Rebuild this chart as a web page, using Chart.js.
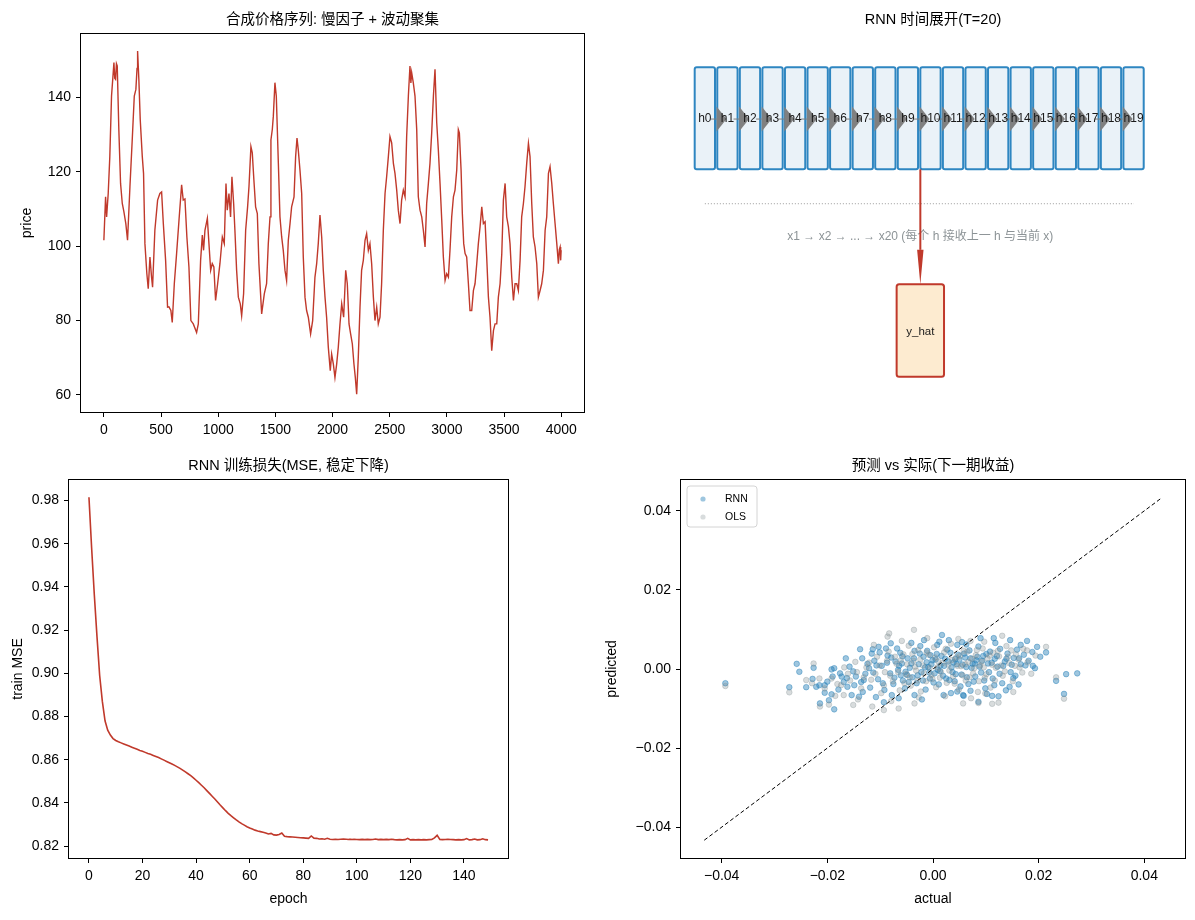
<!DOCTYPE html>
<html>
<head>
<meta charset="utf-8">
<script src="https://cdn.jsdelivr.net/npm/chart.js@4.4.1/dist/chart.umd.min.js"></script>
<style>
html, body { margin: 0; padding: 0; background: #fff; }
#quadro { position: relative; width: 1195px; height: 920px; }
#quadro canvas { position: absolute; left: 0; top: 0; }
</style>
</head>
<body>
<div id="quadro">
<canvas id="preco_chart" width="1195" height="920"></canvas>
<canvas id="rnn_chart" width="1195" height="920"></canvas>
<canvas id="perda_chart" width="1195" height="920"></canvas>
<canvas id="dispersao_chart" width="1195" height="920"></canvas>
</div>
<script>
// serie de preco sintetica [t, preco]
const precoSerie = [
[0,101.6],[15,113.3],[24,107.9],[38,114.2],[52,124.1],[67,140.4],[88,149.4],[95,145.2],[102,144.9],[110,149.1],[117,148.5],[131,131.3],
[146,116.9],[161,111.5],[175,109.3],[192,106.1],[207,101.6],[228,116],[248,128.6],[266,140.4],[280,142.2],[290,147.8],[295,152.5],
[306,144.9],[318,134.1],[336,124.1],[347,119.6],[359,100.7],[376,92.6],[388,88.6],[403,97.1],[417,91.7],[426,89],
[446,104.3],[470,112.4],[490,114.2],[505,114.6],[520,106.1],[540,96.2],[557,83.6],[569,83.7],[586,82.7],[598,79.5],
[616,89.9],[636,98],[657,107],[680,116.5],[694,112.4],[709,112.7],[726,102.5],[744,94.4],[761,80],[782,79.1],
[811,76.8],[826,79.1],[846,96.2],[861,103],[872,98.9],[884,104.3],[905,107.5],[919,100.7],[934,93.5],[948,95.3],
[962,94.4],[977,85.4],[995,89.9],[1015,95.3],[1036,102.5],[1053,100.7],[1068,116.9],[1079,109.7],[1094,114.2],[1108,107.9],
[1120,118.7],[1135,111.5],[1146,104.3],[1161,93.5],[1176,86.3],[1193,84.5],[1205,81.3],[1222,87.2],[1240,104.3],[1257,110.6],
[1269,116],[1286,126.8],[1298,125.1],[1312,117.8],[1327,110.6],[1342,108.8],[1356,95.3],[1380,81.8],[1403,87.2],[1423,89.9],
[1438,100.7],[1453,107.9],[1461,128.6],[1473,131.4],[1482,135],[1496,144],[1508,140.4],[1526,122.3],[1540,107.9],[1555,102.5],
[1569,98.9],[1584,93.5],[1598,90.8],[1613,101.6],[1628,106.1],[1642,110.6],[1663,113.3],[1677,124.1],[1689,129.1],[1700,126],
[1715,120.5],[1730,114.2],[1744,97.1],[1759,86.3],[1773,82.7],[1788,80.9],[1808,76.4],[1826,80],[1846,91.7],[1861,95.3],
[1875,100.7],[1890,108.4],[1905,102.5],[1919,93.5],[1934,86.3],[1948,80.9],[1963,72.8],[1980,66.5],[1992,71],[2007,68.3],
[2021,64.7],[2036,68.3],[2050,72.8],[2065,79.1],[2080,84.5],[2097,80.9],[2115,93.5],[2129,89.9],[2144,79.1],[2158,76.4],
[2173,73.7],[2187,68.3],[2199,64.7],[2211,60.2],[2225,70.1],[2240,83.6],[2254,93.5],[2269,96.2],[2284,101.6],[2298,103.4],
[2313,98.9],[2327,100.7],[2342,95.3],[2357,86.3],[2371,80],[2386,83.6],[2400,79.1],[2415,80.9],[2429,89.9],[2444,104.3],
[2459,114.2],[2473,118.7],[2488,124.1],[2502,129.5],[2517,127.8],[2532,122.3],[2546,119.6],[2561,115.1],[2575,109.7],[2590,106.1],
[2604,112.4],[2619,115.1],[2634,113.3],[2648,129.5],[2663,140.4],[2677,148.5],[2685,143.9],[2692,146.7],[2706,144],[2721,140.4],[2736,131.4],
[2750,113.3],[2765,109.7],[2780,107.9],[2794,104.3],[2809,99.8],[2823,111.5],[2838,116.9],[2852,122.3],[2867,130.5],[2882,140.4],
[2896,147.6],[2911,133.2],[2925,126],[2940,116.9],[2955,107],[2969,97.1],[2984,90.8],[2998,92.6],[3013,91.7],[3027,98.9],
[3042,107.9],[3057,113.3],[3071,115.1],[3086,120.5],[3100,131.4],[3109,130.5],[3124,120.5],[3135,108.8],[3147,100.7],[3159,98],
[3173,97.1],[3188,89.9],[3202,82.7],[3217,82.7],[3232,88.1],[3246,89.9],[3261,95.3],[3275,100.7],[3290,105.2],[3305,110.6],
[3319,106.1],[3334,106.6],[3348,97.1],[3363,86.3],[3377,80.9],[3392,71.9],[3407,77.3],[3421,79.1],[3436,79.1],[3450,86.3],
[3465,89.9],[3480,98],[3494,112.4],[3509,116.9],[3523,107.9],[3538,105.2],[3552,100.7],[3567,91.7],[3582,85.4],[3596,89.9],
[3611,89.9],[3625,88.1],[3640,96.2],[3654,107.9],[3669,111.5],[3683,116],[3698,122.3],[3713,127.7],[3727,124.1],[3742,111.5],
[3756,102.5],[3771,99.8],[3786,95.3],[3800,86.3],[3815,88.1],[3829,89.9],[3844,93.5],[3859,104.3],[3873,107.9],[3888,119.6],
[3902,121.4],[3917,116.9],[3931,111.5],[3946,106.1],[3961,100.7],[3975,95.3],[3983,99.1],[3990,99.8],[3995,96.2],[3999,98.9]
]
const precoTicksX = [0, 500, 1000, 1500, 2000, 2500, 3000, 3500, 4000]
const precoTicksY = [60, 80, 100, 120, 140]

// perda de treino por epoca
const perdaMse = [
0.9815, 0.958, 0.9364, 0.917, 0.899, 0.887, 0.878, 0.8737, 0.8714, 0.8698,
0.8689, 0.8683, 0.8678, 0.8673, 0.8668, 0.8663, 0.8658, 0.8653, 0.8648, 0.8643,
0.8639, 0.8634, 0.8629, 0.8625, 0.8620, 0.8615, 0.8610, 0.8604, 0.8598, 0.8592,
0.8586, 0.8580, 0.8574, 0.8567, 0.8560, 0.8552, 0.8544, 0.8535, 0.8526, 0.8516,
0.8505, 0.8494, 0.8482, 0.8470, 0.8457, 0.8444, 0.8431, 0.8418, 0.8404, 0.8390,
0.8377, 0.8364, 0.8352, 0.8341, 0.8331, 0.8321, 0.8312, 0.8304, 0.8297, 0.8290,
0.8284, 0.8279, 0.8274, 0.8270, 0.8267, 0.8264, 0.8261, 0.8256, 0.8259, 0.8252,
0.8251, 0.8254, 0.8261, 0.8246, 0.8244, 0.8243, 0.8242, 0.8241, 0.8240, 0.8239,
0.8238, 0.8237, 0.8236, 0.8247, 0.8237, 0.8236, 0.8233, 0.8234, 0.8232, 0.8236,
0.8232, 0.8231, 0.8232, 0.8231, 0.8232, 0.8233, 0.8232, 0.8231, 0.8231, 0.8232,
0.8231, 0.8230, 0.8231, 0.8230, 0.8231, 0.8230, 0.8231, 0.8233, 0.8230, 0.8231,
0.8230, 0.8231, 0.8230, 0.8232, 0.8230, 0.8229, 0.8230, 0.8229, 0.8230, 0.8236,
0.8229, 0.8230, 0.8229, 0.8230, 0.8229, 0.8230, 0.8229, 0.8230, 0.8231, 0.8238,
0.8250, 0.8231, 0.8230, 0.8231, 0.8232, 0.8231, 0.8230, 0.8229, 0.8230, 0.8229,
0.8230, 0.8235, 0.8229, 0.8230, 0.8233, 0.8229, 0.8230, 0.8234, 0.8230, 0.8229
]
const perdaTicksX = [0, 20, 40, 60, 80, 100, 120, 140]
const perdaTicksY = [0.82, 0.84, 0.86, 0.88, 0.90, 0.92, 0.94, 0.96, 0.98]

// previsto vs real [actual, predicted]
const rnnPontos = [
[-0.0393,-0.0036],[-0.0272,-0.0046],[-0.0258,0.0013],[-0.0253,-0.0007],[-0.0240,-0.0046],[-0.0228,-0.0025],[-0.0226,0.0003],
[-0.0221,-0.0045],[-0.0215,-0.0041],[-0.0214,-0.0087],[-0.0205,-0.0041],[-0.0205,-0.0060],[-0.0200,-0.0032],[-0.0197,-0.0079],
[-0.0192,-0.0064],[-0.0192,-0.0001],[-0.0190,-0.0019],[-0.0187,-0.0102],[-0.0187,0.0002],[-0.0173,-0.0019],[-0.0165,0.0027],
[-0.0162,-0.0045],[-0.0154,-0.0066],[-0.0149,-0.0041],[-0.0138,0.0050],[-0.0134,0.0027],[-0.0131,-0.0028],[-0.0140,-0.0070],
[-0.0121,0.0002],[-0.0114,0.0050],[-0.0103,0.0056],[-0.0093,-0.0084],[-0.0080,0.0065],[-0.0068,0.0052],[-0.0065,-0.0074],
[-0.0059,0.0014],[-0.0049,-0.0015],[-0.0035,-0.0066],[-0.0024,0.0058],[-0.0017,0.0073],[-0.0005,0.0035],[0.0008,0.0061],
[0.0017,0.0086],[0.0030,0.0073],[0.0020,-0.0066],[0.0046,0.0061],[0.0055,0.0068],[0.0057,-0.0066],[0.0046,-0.0057],
[0.0058,-0.0068],[0.0086,-0.0083],[0.0090,0.0078],[0.0112,-0.0068],[0.0124,-0.0069],[0.0115,0.0078],[0.0146,0.0073],
[0.0145,-0.0045],[0.0162,-0.0039],[0.0152,-0.0023],[0.0178,0.0071],[0.0197,0.0056],[0.0203,0.0031],[0.0214,0.0042],
[0.0193,0.0002],[0.0189,0.0008],[0.0233,-0.0030],[0.0252,-0.0013],[0.0273,-0.0011],[0.0248,-0.0063],
[-0.0128,-0.0012],[-0.0119,-0.0047],[-0.0111,0.0021],[-0.0104,-0.0026],[-0.0097,0.0008],[-0.0092,-0.0053],[-0.0086,0.0034],
[-0.0081,-0.0011],[-0.0075,-0.0038],[-0.0071,0.0019],[-0.0066,-0.0002],[-0.0062,0.0041],[-0.0057,-0.0029],[-0.0053,-0.0049],
[-0.0048,0.0027],[-0.0044,0.0003],[-0.0039,-0.0021],[-0.0035,0.0046],[-0.0031,-0.0036],[-0.0027,0.0012],[-0.0022,-0.0008],
[-0.0018,0.0031],[-0.0014,-0.0052],[-0.0009,0.0005],[-0.0006,-0.0024],[-0.0001,0.0022],[0.0003,-0.0011],[0.0007,0.0038],
[0.0011,-0.0039],[0.0014,0.0009],[0.0019,-0.0017],[0.0023,0.0026],[0.0027,0.0049],[0.0031,-0.0028],[0.0035,0.0004],
[0.0039,0.0017],[0.0043,-0.0013],[0.0048,0.0036],[0.0052,-0.0044],[0.0056,0.0011],[0.0061,0.0029],[0.0064,-0.0021],
[0.0069,0.0047],[0.0073,0.0003],[0.0077,-0.0032],[0.0082,0.0022],[0.0086,0.0057],[0.0091,-0.0009],[0.0095,0.0033],
[0.0099,-0.0049],[0.0104,0.0014],[0.0108,0.0044],[0.0113,-0.0024],[0.0117,0.0026],[0.0122,0.0006],[0.0127,0.0051],
[0.0131,-0.0036],[0.0136,0.0019],[0.0141,0.0039],[0.0147,-0.0008],[0.0153,0.0028],[0.0159,0.0049],[0.0166,0.0012],
[0.0172,0.0036],[0.0181,0.0021],[0.0188,0.0043],[-0.0146,-0.0019],[-0.0158,0.0006],[-0.0169,-0.0033],[-0.0179,-0.0052],
[-0.0133,-0.0058],[-0.0108,-0.0071],[-0.0078,-0.0066],[-0.0021,-0.0077],[0.0034,-0.0061],[0.0071,-0.0055],[0.0102,-0.0063],
[0.0138,-0.0054],[-0.0089,0.0052],[-0.0041,0.0066],[0.0012,0.0069],[0.0063,0.0062],[0.0118,0.0066],[0.0166,0.0061],
[-0.0116,0.0039],[0.0013,-0.0005],[0.0042,0.0025],[-0.0012,0.0017],[0.0079,0.0014],[-0.0061,-0.0016],
[-0.0124,0.0013],[-0.0113,-0.0009],[-0.0101,0.0042],[-0.0095,-0.0036],[-0.0087,0.0016],[-0.0079,0.0029],[-0.0073,-0.0022],
[-0.0064,0.0008],[-0.0058,0.0032],[-0.0052,-0.0007],[-0.0046,-0.0033],[-0.0041,0.0014],[-0.0036,0.0027],[-0.0029,-0.0016],
[-0.0025,0.0039],[-0.0019,-0.0029],[-0.0015,0.0004],[-0.0011,0.0046],[-0.0007,-0.0009],[-0.0003,0.0012],[0.0001,-0.0034],
[0.0005,0.0024],[0.0009,-0.0002],[0.0016,0.0033],[0.0021,0.0008],[0.0025,-0.0024],[0.0029,0.0019],[0.0033,0.0041],
[0.0037,-0.0008],[0.0041,-0.0031],[0.0045,0.0012],[0.0050,0.0024],[0.0054,-0.0014],[0.0059,0.0039],[0.0063,0.0005],
[0.0067,-0.0038],[0.0071,0.0027],[0.0075,0.0013],[0.0080,-0.0019],[0.0084,0.0031],[0.0088,0.0006],[0.0093,0.0021],
[0.0097,-0.0029],[0.0101,0.0038],[0.0106,-0.0008],[0.0111,0.0016],[0.0116,-0.0041],[0.0121,0.0033],[0.0126,-0.0012],
[0.0133,0.0008],[0.0139,0.0026],[0.0149,0.0011],[0.0156,-0.0017],[0.0163,0.0027],[0.0175,0.0009],[-0.0151,-0.0006],
[-0.0163,-0.0023],[-0.0176,-0.0011],[-0.0136,-0.0033],[-0.0107,0.0009]
]
const olsPontos = [
[-0.0393,-0.0043],[-0.0272,-0.0059],[-0.0240,-0.0028],[-0.0226,0.0014],[-0.0215,-0.0024],[-0.0214,-0.0095],[-0.0197,-0.0090],
[-0.0083,0.0090],[-0.0086,0.0082],[-0.0036,0.0099],[0.0131,0.0084],[0.0214,0.0056],[0.0233,-0.0021],[0.0248,-0.0075],
[0.0112,-0.0088],[0.0124,-0.0085],[0.0086,-0.0086],[0.0057,-0.0087],[-0.0169,-0.0066],[-0.0151,-0.0091],[-0.0115,-0.0095],
[-0.0065,-0.0100],[-0.0093,-0.0104],[-0.0035,-0.0087],[0.0099,-0.0062],[0.0178,0.0047],
[-0.0174,-0.0041],[-0.0161,-0.0012],[-0.0147,0.0018],[-0.0136,-0.0049],[-0.0126,0.0004],[-0.0117,-0.0027],[-0.0106,0.0031],
[-0.0098,-0.0061],[-0.0091,-0.0008],[-0.0084,0.0044],[-0.0076,-0.0031],[-0.0069,0.0013],[-0.0063,-0.0054],[-0.0056,0.0037],
[-0.0051,-0.0013],[-0.0046,0.0059],[-0.0042,-0.0042],[-0.0037,0.0021],[-0.0032,-0.0004],[-0.0028,0.0048],[-0.0023,-0.0057],
[-0.0019,0.0009],[-0.0013,-0.0031],[-0.0008,0.0036],[-0.0003,-0.0015],[0.0002,0.0055],[0.0006,-0.0046],[0.0010,0.0019],
[0.0015,-0.0007],[0.0021,0.0042],[0.0026,-0.0035],[0.0029,0.0011],[0.0034,0.0064],[0.0038,-0.0019],[0.0044,0.0029],
[0.0049,-0.0052],[0.0053,0.0007],[0.0058,0.0046],[0.0062,-0.0029],[0.0067,0.0018],[0.0071,0.0071],[0.0076,-0.0011],
[0.0081,0.0035],[0.0085,-0.0058],[0.0089,0.0009],[0.0094,0.0052],[0.0098,-0.0022],[0.0103,0.0027],[0.0109,-0.0047],
[0.0114,0.0041],[0.0119,0.0003],[0.0125,0.0032],[0.0132,-0.0017],[0.0139,0.0058],[0.0144,0.0015],[0.0151,-0.0031],
[0.0157,0.0037],[0.0164,0.0004],[0.0171,0.0051],[0.0179,0.0017],[0.0186,-0.0012],[0.0194,0.0034],[-0.0185,-0.0068],
[-0.0192,-0.0024],[-0.0205,-0.0049],[-0.0229,-0.0036],[-0.0112,0.0061],[-0.0059,0.0071],[-0.0011,0.0078],[0.0048,0.0076],
[0.0097,0.0069],[-0.0142,-0.0077],[-0.0079,-0.0081],[-0.0027,-0.0072],[0.0023,-0.0069],[0.0072,-0.0074],[0.0152,-0.0058],
[-0.0131,-0.0021],[-0.0121,0.0016],[-0.0109,-0.0012],[-0.0101,0.0009],[-0.0093,-0.0041],[-0.0087,0.0021],[-0.0081,-0.0017],
[-0.0072,0.0031],[-0.0066,-0.0008],[-0.0061,0.0022],[-0.0054,-0.0036],[-0.0049,0.0012],[-0.0044,-0.0021],[-0.0039,0.0038],
[-0.0034,0.0006],[-0.0029,-0.0029],[-0.0024,0.0024],[-0.0017,-0.0011],[-0.0012,0.0042],[-0.0006,0.0003],[-0.0001,-0.0025],
[0.0004,0.0029],[0.0008,0.0004],[0.0013,-0.0022],[0.0018,0.0015],[0.0024,0.0051],[0.0031,-0.0004],[0.0036,0.0023],
[0.0041,-0.0037],[0.0046,0.0008],[0.0051,0.0033],[0.0056,-0.0016],[0.0061,0.0012],[0.0065,0.0044],[0.0069,-0.0021],
[0.0074,0.0026],[0.0078,0.0002],[0.0083,0.0048],[0.0087,-0.0031],[0.0092,0.0019],[0.0096,0.0004],[0.0101,-0.0013],
[0.0107,0.0034],[0.0112,0.0011],[0.0117,-0.0029],[0.0123,0.0046],[0.0129,0.0009],[0.0136,-0.0006],[0.0142,0.0031],
[0.0148,0.0047],[0.0155,0.0008],[0.0162,0.0024],[0.0169,-0.0009],[-0.0157,-0.0029],[-0.0144,-0.0008],[-0.0168,0.0004],
[-0.0181,-0.0038]
]
const diagonal = [-0.0433, 0.0433]
const dispersaoTicks = [-0.04, -0.02, 0, 0.02, 0.04]

// estados do diagrama RNN
const estados = ['h0','h1','h2','h3','h4','h5','h6','h7','h8','h9','h10','h11','h12','h13','h14','h15','h16','h17','h18','h19']
const notaEntrada = 'x1 → x2 → ... → x20 (每个 h 接收上一 h 与当前 x)'
const saidaRotulo = 'y_hat'

const FONTE = "'Liberation Sans', 'Noto Sans CJK SC', sans-serif"
Chart.defaults.font.family = FONTE
Chart.defaults.font.size = 14
Chart.defaults.color = '#000'

const VERMELHO = '#c0392b'

function eixo(min, max, valores, formato, tamanho, horizontal, rotulo, padRotulo){
    return {
        type: 'linear',
        min: min,
        max: max,
        afterBuildTicks: (s) => { s.ticks = valores.map(v => ({ value: v })) },
        afterFit: (s) => { if (horizontal) s.height = tamanho; else s.width = tamanho },
        ticks: { callback: (v) => formato(v), padding: 5, color: '#000', maxRotation: 0, autoSkip: false },
        grid: { drawOnChartArea: false, drawTicks: true, tickLength: 5, color: '#000', lineWidth: 1 },
        border: { display: false },
        title: { display: !!rotulo, text: rotulo || '', color: '#000', padding: padRotulo || 0 }
    }
}

const moldura = {
    id: 'moldura',
    afterDatasetsDraw(chart, args, opts){
        const { ctx, chartArea: a } = chart
        ctx.save()
        if (opts.caixa) {
            ctx.strokeStyle = '#000'
            ctx.lineWidth = 1
            ctx.strokeRect(a.left - 0.5, a.top - 0.5, a.right - a.left + 1, a.bottom - a.top + 1)
        }
        if (opts.titulo) {
            ctx.fillStyle = '#000'
            ctx.font = `14.5px ${FONTE}`
            ctx.textAlign = 'center'
            ctx.textBaseline = 'middle'
            ctx.fillText(opts.titulo, (a.left + a.right) / 2, a.top - 14.5)
        }
        ctx.restore()
    }
}

function caixaArredondada(ctx, x, y, w, h, r, fundo, borda, lw){
    ctx.beginPath()
    if (ctx.roundRect) ctx.roundRect(x, y, w, h, r); else ctx.rect(x, y, w, h)
    ctx.fillStyle = fundo
    ctx.fill()
    ctx.lineWidth = lw
    ctx.strokeStyle = borda
    ctx.stroke()
}

const baseOpcoes = {
    responsive: false,
    animation: false,
    devicePixelRatio: 1,
    events: []
}

// --- grafico 1: serie de preco
new Chart(document.getElementById('preco_chart'), {
    type: 'scatter',
    data: {
        datasets: [{
            data: precoSerie.map(p => ({ x: p[0], y: p[1] })),
            showLine: true,
            borderColor: VERMELHO,
            borderWidth: 1.4,
            pointRadius: 0,
            tension: 0
        }]
    },
    options: {
        ...baseOpcoes,
        layout: { padding: { left: 0, top: 34, right: 611, bottom: 478 } },
        plugins: { legend: { display: false }, tooltip: { enabled: false },
            moldura: { caixa: true, titulo: '合成价格序列: 慢因子 + 波动聚集' } },
        scales: {
            x: eixo(-200, 4199, precoTicksX, v => String(v), 30, true),
            y: eixo(55.4, 157.1, precoTicksY, v => String(v), 81, false, 'price', { top: 18.3 })
        }
    },
    plugins: [moldura]
})

// --- grafico 2: diagrama RNN
const celula = { largura: 0.9, topo: 9.12, base: 6.42, rotuloY: 7.75 }
const desenhoRnn = {
    id: 'desenhoRnn',
    afterDatasetsDraw(chart){
        const { ctx, scales: { x, y } } = chart
        const px = v => x.getPixelForValue(v)
        const py = v => y.getPixelForValue(v)
        ctx.save()
        estados.forEach((nome, i) => {
            caixaArredondada(ctx, px(i), py(celula.topo), px(i + celula.largura) - px(i),
                py(celula.base) - py(celula.topo), 2, '#eaf2f8', '#2e86c1', 2)
        })
        // setas entre estados
        for (let i = 0; i < estados.length - 1; i++) {
            ctx.strokeStyle = '#7f7f7f'
            ctx.lineWidth = 1
            ctx.beginPath()
            ctx.moveTo(px(i + 0.72), py(celula.rotuloY))
            ctx.lineTo(px(i + 0.97), py(celula.rotuloY))
            ctx.stroke()
            ctx.fillStyle = '#808080'
            ctx.beginPath()
            ctx.moveTo(px(i + 0.97), py(celula.rotuloY + 0.33))
            ctx.lineTo(px(i + 1.41), py(celula.rotuloY))
            ctx.lineTo(px(i + 0.97), py(celula.rotuloY - 0.33))
            ctx.closePath()
            ctx.fill()
        }
        ctx.fillStyle = '#1a1a1a'
        ctx.font = `12px ${FONTE}`
        ctx.textAlign = 'center'
        ctx.textBaseline = 'middle'
        estados.forEach((nome, i) => ctx.fillText(nome, px(i + celula.largura / 2), py(celula.rotuloY)))
        // linha pontilhada
        ctx.strokeStyle = '#9a9a9a'
        ctx.lineWidth = 1
        ctx.setLineDash([1, 2])
        ctx.beginPath()
        ctx.moveTo(px(0.45), py(5.51))
        ctx.lineTo(px(19.47), py(5.51))
        ctx.stroke()
        ctx.setLineDash([])
        ctx.fillStyle = '#8c9396'
        ctx.font = `12px ${FONTE}`
        ctx.fillText(notaEntrada, px(10), py(4.63))
        // seta vermelha para a saida
        ctx.strokeStyle = VERMELHO
        ctx.lineWidth = 2
        ctx.beginPath()
        ctx.moveTo(px(10), py(celula.base))
        ctx.lineTo(px(10), py(4.29))
        ctx.stroke()
        ctx.fillStyle = VERMELHO
        ctx.beginPath()
        ctx.moveTo(px(10) - 3.2, py(4.29))
        ctx.lineTo(px(10) + 3.2, py(4.29))
        ctx.lineTo(px(10), py(3.38))
        ctx.closePath()
        ctx.fill()
        caixaArredondada(ctx, px(8.95), py(3.38), px(11.05) - px(8.95), py(0.93) - py(3.38), 2.5, '#fdebd0', VERMELHO, 2)
        ctx.fillStyle = '#1a1a1a'
        ctx.font = `11.5px ${FONTE}`
        ctx.fillText(saidaRotulo, px(10), py(2.12))
        ctx.restore()
    }
}
new Chart(document.getElementById('rnn_chart'), {
    type: 'scatter',
    data: { datasets: [{ data: [] }] },
    options: {
        ...baseOpcoes,
        layout: { padding: { left: 681, top: 34, right: 10, bottom: 508 } },
        plugins: { legend: { display: false }, tooltip: { enabled: false },
            moldura: { caixa: false, titulo: 'RNN 时间展开(T=20)' } },
        scales: {
            x: { type: 'linear', min: -0.607, max: 21.73, display: false },
            y: { type: 'linear', min: 0, max: 10, display: false }
        }
    },
    plugins: [desenhoRnn, moldura]
})

// --- grafico 3: perda de treino
new Chart(document.getElementById('perda_chart'), {
    type: 'scatter',
    data: {
        datasets: [{
            data: perdaMse.map((v, i) => ({ x: i, y: v })),
            showLine: true,
            borderColor: VERMELHO,
            borderWidth: 1.6,
            pointRadius: 0,
            tension: 0
        }]
    },
    options: {
        ...baseOpcoes,
        layout: { padding: { left: 0, top: 480, right: 687, bottom: 12 } },
        plugins: { legend: { display: false }, tooltip: { enabled: false },
            moldura: { caixa: true, titulo: 'RNN 训练损失(MSE, 稳定下降)' } },
        scales: {
            x: eixo(-7.45, 156.45, perdaTicksX, v => String(v), 50, true, 'epoch', { bottom: 0 }),
            y: eixo(0.8145, 0.9895, perdaTicksY, v => v.toFixed(2), 69, false, 'train MSE', { top: 9.3 })
        }
    },
    plugins: [moldura]
})

// --- grafico 4: previsto vs real
const formatoRetorno = v => (v < 0 ? '\u2212' : '') + Math.abs(v).toFixed(2)
const legendaDispersao = {
    id: 'legendaDispersao',
    afterDraw(chart){
        const { ctx, chartArea: a } = chart
        const itens = chart.data.datasets.filter(d => d.legenda)
        ctx.save()
        caixaArredondada(ctx, a.left + 6, a.top + 6, 70, 41, 3, 'rgba(255,255,255,0.8)', '#d4d4d4', 1)
        itens.forEach((d, k) => {
            const yy = a.top + 19 + k * 18
            ctx.beginPath()
            ctx.arc(a.left + 22, yy, 2.6, 0, Math.PI * 2)
            ctx.fillStyle = d.backgroundColor
            ctx.fill()
            ctx.fillStyle = '#000'
            ctx.font = `10.5px ${FONTE}`
            ctx.textAlign = 'left'
            ctx.textBaseline = 'middle'
            ctx.fillText(d.legenda, a.left + 44, yy)
        })
        ctx.restore()
    }
}
new Chart(document.getElementById('dispersao_chart'), {
    type: 'scatter',
    data: {
        datasets: [
            {
                data: diagonal.map(v => ({ x: v, y: v })),
                showLine: true,
                borderColor: '#000',
                borderWidth: 1,
                borderDash: [4, 2.5],
                pointRadius: 0,
                order: 0
            },
            {
                legenda: 'RNN',
                data: rnnPontos.map(p => ({ x: p[0], y: p[1] })),
                backgroundColor: 'rgba(41,128,185,0.45)',
                borderColor: 'rgba(41,128,185,0.45)',
                borderWidth: 1,
                pointRadius: 2.8,
                order: 2
            },
            {
                legenda: 'OLS',
                data: olsPontos.map(p => ({ x: p[0], y: p[1] })),
                backgroundColor: 'rgba(127,140,141,0.3)',
                borderColor: 'rgba(127,140,141,0.3)',
                borderWidth: 1,
                pointRadius: 2.8,
                order: 1
            }
        ]
    },
    options: {
        ...baseOpcoes,
        layout: { padding: { left: 600, top: 480, right: 10, bottom: 12 } },
        plugins: { legend: { display: false }, tooltip: { enabled: false },
            moldura: { caixa: true, titulo: '预测 vs 实际(下一期收益)' } },
        scales: {
            x: eixo(-0.0477, 0.0477, dispersaoTicks, formatoRetorno, 50, true, 'actual', { bottom: 0 }),
            y: eixo(-0.0478, 0.0478, dispersaoTicks, formatoRetorno, 81, false, 'predicted', { top: 3.3 })
        }
    },
    plugins: [moldura, legendaDispersao]
})
</script>
</body>
</html>
